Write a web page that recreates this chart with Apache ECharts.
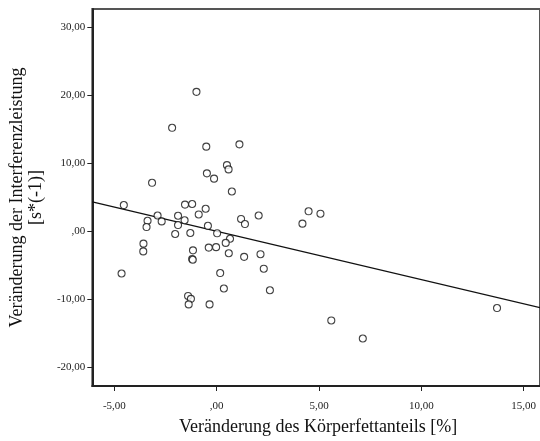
<!DOCTYPE html>
<html>
<head>
<meta charset="utf-8">
<script src="https://cdn.jsdelivr.net/npm/echarts@6/dist/echarts.min.js"></script>
<style>
  html, body { margin: 0; padding: 0; background: #fff; }
  #chart { width: 540px; height: 441px; }
</style>
</head>
<body>
<div id="chart"></div>
<script>
// Change in body fat share [%] per participant
const fatChange = [
  -0.99, -2.18, -0.51, 1.11, 0.50, 0.58, -0.48, -0.13, -3.16, 0.74,
  -4.54, -1.55, -1.20, -0.54, -0.88, -2.89, -1.89, -3.38, -2.69, -1.57,
  -3.43, -1.89, -0.43, 1.19, 1.38, 2.05, 4.49, 5.07, 4.19, 0.02,
  -2.03, -1.29, 0.65, 0.44, -3.58, -3.59, -0.39, -0.03, -1.16, -1.20,
  -1.17, 0.59, 1.34, 2.14, -4.65, 0.17, 2.30, 0.35, 2.60, -1.40,
  -1.26, -1.37, -0.35, 5.60, 7.14, 13.70
];
// Change in interference performance [s*(-1)] per participant
const interferenceChange = [
  20.47, 15.19, 12.42, 12.76, 9.70, 9.08, 8.50, 7.72, 7.11, 5.83,
  3.84, 3.91, 3.99, 3.30, 2.46, 2.31, 2.27, 1.54, 1.44, 1.61,
  0.61, 0.90, 0.79, 1.80, 1.05, 2.31, 2.92, 2.57, 1.11, -0.31,
  -0.41, -0.26, -1.11, -1.72, -1.83, -2.97, -2.41, -2.34, -2.81, -4.09,
  -4.20, -3.24, -3.77, -3.38, -6.21, -6.15, -5.51, -8.42, -8.67, -9.51,
  -9.94, -10.75, -10.75, -13.11, -15.76, -11.29
];
// Fit line end points (x, y)
const fitX = [-6.08, 15.80];
const fitY = [4.31, -11.22];

// Tick positions
const xTicks = [-5, 0, 5, 10, 15];
const yTicks = [-20, -10, 0, 10, 20, 30];

const xTitle = 'Veränderung des Körperfettanteils [%]';
const yTitle = 'Veränderung der Interferenzleistung\n[s*(-1)]';

const fmt = v => (v === 0 ? ',00' : v.toFixed(2).replace('.', ','));

const points = fatChange.map((x, i) => [x, interferenceChange[i]]);
const fitLine = fitX.map((x, i) => [x, fitY[i]]);

const serif = '"Liberation Serif", "Times New Roman", serif';

const chart = echarts.init(document.getElementById('chart'), null, { renderer: 'canvas' });
chart.setOption({
  animation: false,
  backgroundColor: '#ffffff',
  grid: {
    left: 92, top: 9, width: 450, height: 381,
    show: true, borderColor: '#555', borderWidth: 2, backgroundColor: '#fff'
  },
  xAxis: {
    type: 'value',
    min: -6.08, max: 15.80,
    splitLine: { show: false },
    axisLine: { show: true, onZero: false, lineStyle: { color: '#222', width: 2 } },
    axisTick: { show: true, length: 5, customValues: xTicks, lineStyle: { color: '#222', width: 1 } },
    axisLabel: {
      customValues: xTicks, formatter: fmt, margin: 15,
      fontFamily: serif, fontSize: 11, color: '#222'
    },
    name: xTitle,
    nameLocation: 'middle',
    nameGap: 32,
    nameTextStyle: { fontFamily: serif, fontSize: 18, color: '#111', padding: [0, 0, 0, 4] }
  },
  yAxis: {
    type: 'value',
    min: -22.74, max: 32.64,
    splitLine: { show: false },
    axisLine: { show: true, onZero: false, lineStyle: { color: '#222', width: 2 } },
    axisTick: { show: true, length: 5, customValues: yTicks, lineStyle: { color: '#222', width: 1 } },
    axisLabel: {
      customValues: yTicks, formatter: fmt, margin: 7,
      fontFamily: serif, fontSize: 11, color: '#222'
    },
    name: yTitle,
    nameLocation: 'middle',
    nameGap: 39,
    nameTextStyle: { fontFamily: serif, fontSize: 18, color: '#111', lineHeight: 19 }
  },
  series: [
    {
      type: 'line',
      data: fitLine,
      showSymbol: false,
      symbol: 'none',
      lineStyle: { color: '#111', width: 1.2 },
      silent: true,
      z: 2
    },
    {
      type: 'scatter',
      data: points,
      symbol: 'circle',
      symbolSize: 7,
      itemStyle: { color: '#fff', borderColor: '#111', borderWidth: 1.1 },
      z: 3
    }
  ]
});
</script>
</body>
</html>
